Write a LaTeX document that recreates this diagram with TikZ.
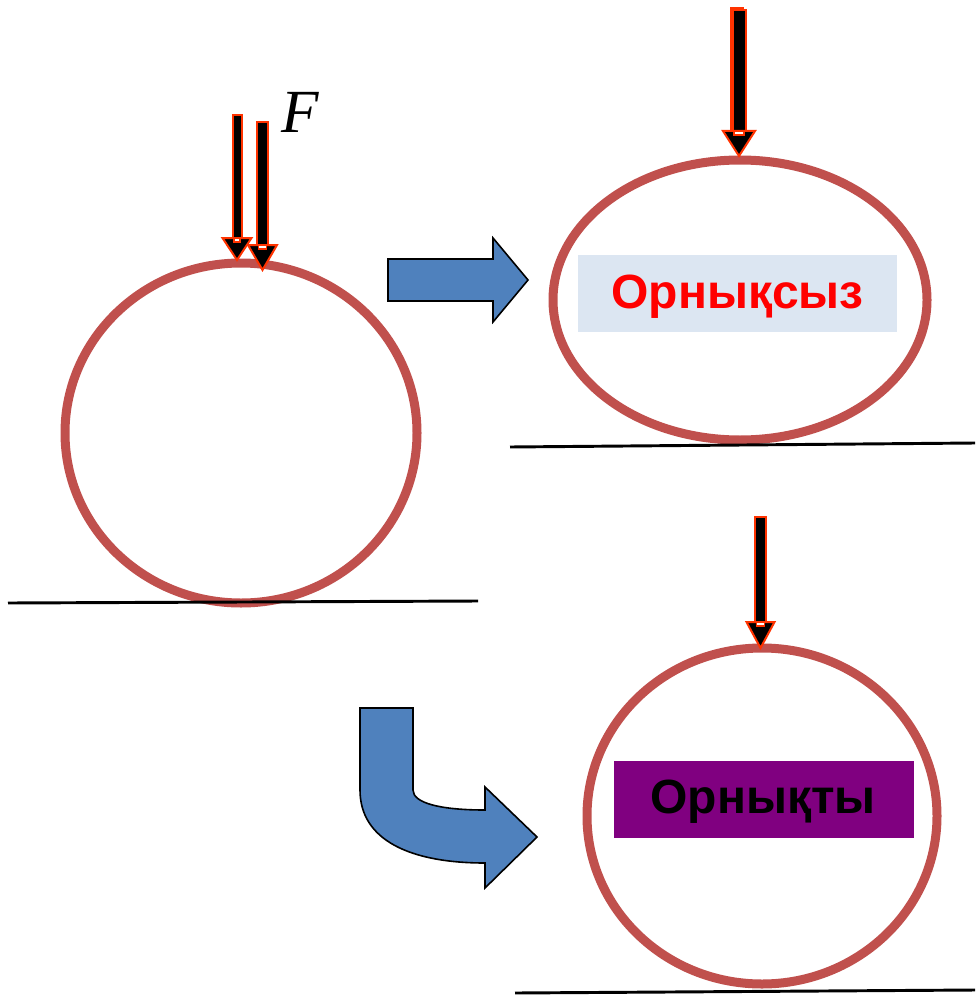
\documentclass[tikz,border=0pt]{standalone}
\usepackage{fontspec}
\newfontfamily\labfont{Liberation Sans}
\newfontfamily\forcefont{Liberation Serif}
\definecolor{ringred}{HTML}{C0504D}
\definecolor{forcered}{HTML}{FF3300}
\definecolor{blockblue}{HTML}{4F81BD}
\definecolor{boxblue}{HTML}{DCE6F2}
\definecolor{boxpurple}{HTML}{800080}
\newcommand{\farrow}[6]{%
  \filldraw[fa] (#1-#2,#3) rectangle (#1+#2,#4);
  \filldraw[fa] (#1-#5,#4) -- (#1+#5,#4) -- (#1,#6) -- cycle;
  \filldraw[draw=forcered, fill=white, line width=1pt] (#1-#2+1.5,#4) rectangle (#1+#2-1.5,#4+4);}
\begin{document}
\begin{tikzpicture}[x=0.75pt,y=-0.75pt,
  ring/.style={draw=ringred, line width=6.75pt},
  ground/.style={draw=black, line width=2.2pt},
  fa/.style={fill=black, draw=forcered, line width=1.5pt, line join=miter},
  block/.style={fill=blockblue, draw=black, line width=1.2pt, line join=miter},
  labbox/.style={inner sep=0pt, font=\labfont\bfseries\fontsize{36}{38}\selectfont}]
\useasboundingbox (0,0) rectangle (975,995);

% rings
\draw[ring] (241,433) ellipse [x radius=176, y radius=170];
\draw[ring] (740,300) ellipse [x radius=187, y radius=140];
\draw[ring] (762,816) ellipse [x radius=175, y radius=168];

% ground lines
\coordinate (g1a) at (8,603);   \coordinate (g1b) at (478,601);
\coordinate (g2a) at (510,447); \coordinate (g2b) at (975,443);
\coordinate (g3a) at (515,993); \coordinate (g3b) at (975,990);
\draw[ground] (g1a) -- (g1b);
\draw[ground] (g2a) -- (g2b);
\draw[ground] (g3a) -- (g3b);

% force arrows
\farrow{237}{4.5}{115}{238}{14.5}{260}
\farrow{262.5}{5.5}{122}{245}{14.5}{270}
\draw[draw=forcered, line width=1pt] (731,8) rectangle (743,131);
\farrow{739}{6.5}{10}{131}{16}{156}
\farrow{760.5}{5.5}{517}{622}{14}{648}

\node (F) at (300,112) {\forcefont\itshape\fontsize{46}{48}\selectfont F};

% block arrows
\filldraw[block] (388,259) -- (493,259) -- (493,238) -- (528,280) -- (493,322) -- (493,301) -- (388,301) -- cycle;
\filldraw[block] (360,708) -- (413,708) -- (413,790)
  .. controls (413,803) and (440,810) .. (485,810)
  -- (485,787) -- (537,837) -- (485,888) -- (485,863)
  .. controls (410,863) and (360,840) .. (360,790) -- cycle;

% labels
\fill[boxblue] (578,255) rectangle (897,332);
\node[labbox, text=red] (l1) at (737.5,297) {Орнықсыз};
\fill[boxpurple] (614,761) rectangle (914,838);
\node[labbox, text=black] (l2) at (763,802) {Орнықты};
\end{tikzpicture}
\end{document}
